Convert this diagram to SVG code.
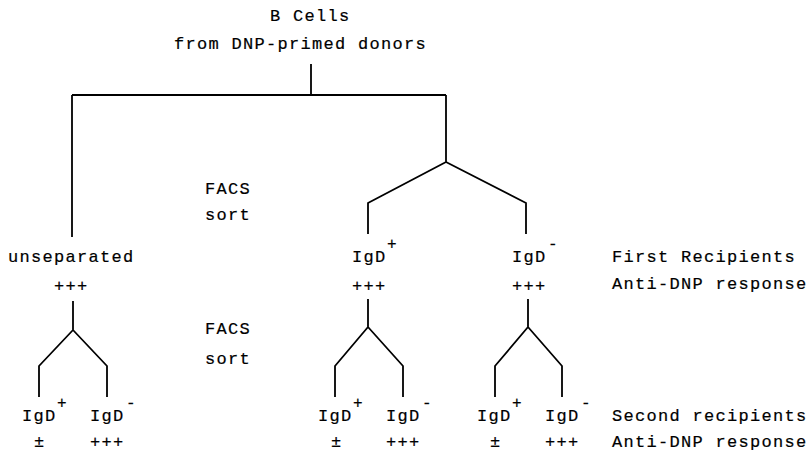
<svg xmlns="http://www.w3.org/2000/svg" width="809" height="459" viewBox="0 0 809 459">
<style>
text{font-family:"Courier New","Liberation Mono",monospace;font-size:17px;letter-spacing:1.3px;fill:#000;stroke:#000;stroke-width:0.2}
.sup{font-size:16px}
.ln{fill:none;stroke:#000;stroke-width:1.8;stroke-linejoin:miter}
</style>
<rect width="809" height="459" fill="#fff"/>
<g id="connectors" class="ln">
<path d="M311,64V95M72,95H446M72,95V237M446,95V162L368,203V234M446,162L526,203V234"/>
<path d="M73,301V330L39,366V397M73,330L107,366V397"/>
<path d="M368,299V327L335,366V397M368,327L403,366V397"/>
<path d="M528,299V327L495,366V397M528,327L562,366V397"/>
</g>
<g id="root"><text x="270" y="21">B Cells</text><text x="174" y="49">from DNP-primed donors</text></g>
<g id="sort1"><text x="205" y="194">FACS</text><text x="205" y="220">sort</text></g>
<g id="sort2"><text x="205" y="334">FACS</text><text x="205" y="364">sort</text></g>
<g id="unseparated"><text x="8" y="262">unseparated</text><text x="54" y="291">+++</text></g>
<g id="igd-pos-1"><text x="352" y="262">IgD</text><text class="sup" x="387" y="249">+</text><text x="352" y="291">+++</text></g>
<g id="igd-neg-1"><text x="512" y="262">IgD</text><text class="sup" x="548" y="249">-</text><text x="512" y="291">+++</text></g>
<g id="row-labels-1"><text x="612" y="262">First Recipients</text><text x="612" y="289">Anti-DNP response</text></g>
<g id="u-igd-pos"><text x="22" y="421">IgD</text><text class="sup" x="57" y="408">+</text><text x="34" y="447">±</text></g>
<g id="u-igd-neg"><text x="90" y="421">IgD</text><text class="sup" x="126" y="408">-</text><text x="90" y="447">+++</text></g>
<g id="p-igd-pos"><text x="318" y="421">IgD</text><text class="sup" x="353" y="408">+</text><text x="331" y="447">±</text></g>
<g id="p-igd-neg"><text x="386" y="421">IgD</text><text class="sup" x="422" y="408">-</text><text x="386" y="447">+++</text></g>
<g id="n-igd-pos"><text x="477" y="421">IgD</text><text class="sup" x="512" y="408">+</text><text x="490" y="447">±</text></g>
<g id="n-igd-neg"><text x="545" y="421">IgD</text><text class="sup" x="581" y="408">-</text><text x="545" y="447">+++</text></g>
<g id="row-labels-2"><text x="612" y="421">Second recipients</text><text x="612" y="447">Anti-DNP response</text></g>
</svg>
